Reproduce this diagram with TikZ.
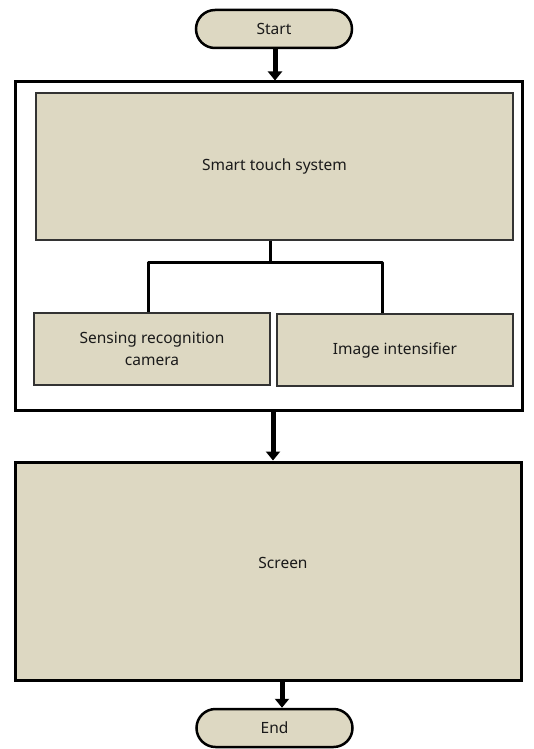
\documentclass[tikz,border=0pt]{standalone}
\usepackage{fontspec}
\setmainfont{Noto Sans}
\usetikzlibrary{arrows.meta,shapes.misc}
\definecolor{beige}{HTML}{DDD8C2}
\definecolor{txt}{HTML}{1A1A1A}
\begin{document}
\begin{tikzpicture}[x=1pt,y=-1pt,
  lbl/.style={font=\fontsize{15.5}{22}\selectfont,text=txt},
  pill/.style={draw=black,line width=2.5pt,fill=beige,rounded rectangle,minimum width=156pt,minimum height=38pt,inner sep=0pt,lbl},
  inbox/.style={draw=black!80,line width=1.2pt,fill=beige,rectangle,inner sep=0pt,lbl,align=center},
  flow/.style={line width=5pt,-{Triangle[width=14pt,length=9pt]}},
  link/.style={line width=3pt,line join=round}]
\useasboundingbox (0,0) rectangle (534,749);
\node[pill] (start) at (274,29) {Start};
\node[draw=black,line width=3pt,fill=white,minimum width=507pt,minimum height=328pt,inner sep=0pt] (outer) at (268.5,246) {};
\node[inbox,minimum width=477pt,minimum height=147pt] (smart) at (274.5,166.5) {Smart touch system};
\node[inbox,minimum width=236pt,minimum height=72pt] (sens) at (152,349) {Sensing recognition\\camera};
\node[inbox,minimum width=236pt,minimum height=72pt] (img) at (395,350) {Image intensifier};
\node[draw=black,line width=3pt,fill=beige,minimum width=506pt,minimum height=218pt,inner sep=0pt] (screen) at (268,571) {};
\node[lbl] (screentext) at (283,563) {Screen};
\node[pill] (end) at (274.5,728) {End};
\coordinate (j) at (270,262);
\draw[flow] (start.south -| 275,0) -- (outer.north -| 275,0);
\draw[link] (smart.south -| j) -- (j);
\draw[link] (j) -- (148,262) -- (sens.north -| 148,0);
\draw[link] (j) -- (382,262) -- (img.north -| 382,0);
\draw[flow] (outer.south -| 273,0) -- (screen.north -| 273,0);
\draw[flow] (screen.south -| 282,0) -- (end.north -| 282,0);
\end{tikzpicture}
\end{document}
